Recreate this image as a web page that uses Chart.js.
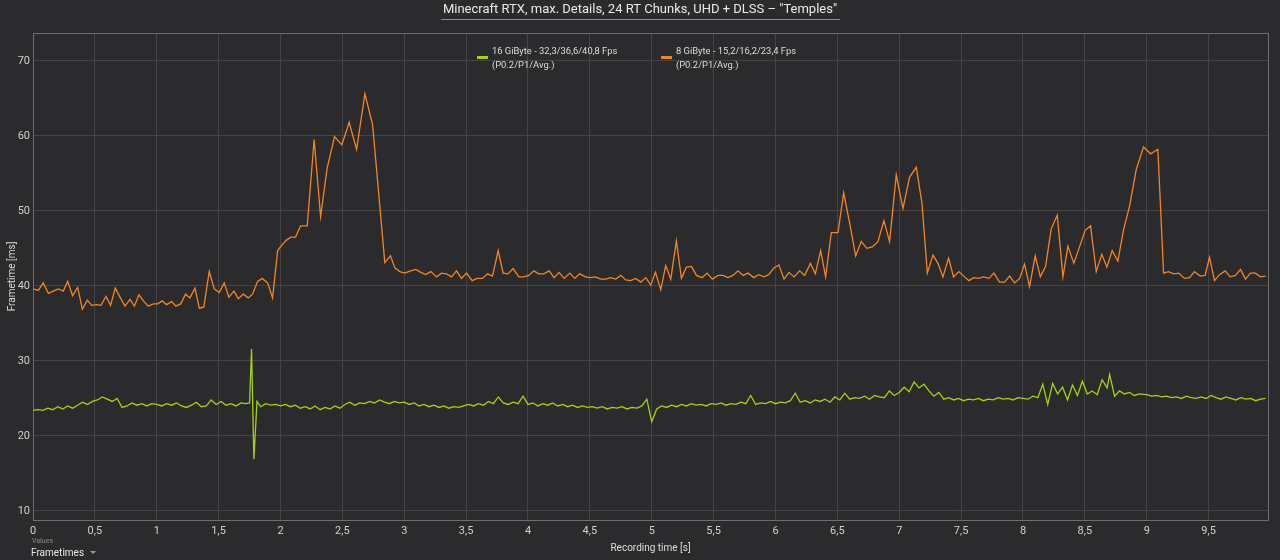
<!DOCTYPE html>
<html>
<head>
<meta charset="utf-8">
<script src="https://cdn.jsdelivr.net/npm/chart.js@4.4.0/dist/chart.umd.min.js"></script>
<style>
  html, body { margin: 0; padding: 0; background: #2b2b2d; }
  #wrap { width: 1280px; height: 560px; }
</style>
</head>
<body>
<div id="wrap"><canvas id="chart" width="1280" height="560"></canvas></div>
<script>
const chartTitle = 'Minecraft RTX, max. Details, 24 RT Chunks, UHD + DLSS \u2013 "Temples"'
const seriesLabels = ['16 GiByte - 32,3/36,6/40,8 Fps', '8 GiByte - 15,2/16,2/23,4 Fps']
const seriesSubLabel = '(P0.2/P1/Avg.)'
const seriesColors = ['#a3d30c', '#f5851f']
const xTicks = [0, 0.5, 1, 1.5, 2, 2.5, 3, 3.5, 4, 4.5, 5, 5.5, 6, 6.5, 7, 7.5, 8, 8.5, 9, 9.5]
const yTicks = [10, 20, 30, 40, 50, 60, 70]

// [recording time s, frametime ms]
const greenFrames = [
  [0,23.4],[0.04,23.5],[0.08,23.4],[0.12,23.7],[0.16,23.5],[0.2,23.9],[0.24,23.6],[0.28,24.0],[0.32,23.7],[0.36,24.1],[0.4,24.5],[0.44,24.2],[0.48,24.6],[0.52,24.8],[0.56,25.2],[0.6,24.9],[0.64,24.6],[0.68,25.0],[0.72,23.8],[0.76,24.0],[0.8,24.4],[0.84,24.1],[0.88,24.3],[0.92,24.0],[0.96,24.3],
  [1.0,24.2],[1.04,24.0],[1.08,24.3],[1.12,24.1],[1.16,24.4],[1.2,24.0],[1.24,23.8],[1.28,24.1],[1.32,24.5],[1.36,23.9],[1.4,24.0],[1.44,24.8],[1.48,24.2],[1.52,24.6],[1.56,24.1],[1.6,24.3],[1.64,24.0],[1.68,24.4],[1.72,24.3],[1.75,24.4],[1.766,31.6],[1.785,16.9],[1.81,24.6],[1.84,23.9],[1.88,24.3],[1.92,24.1],[1.96,24.2],
  [2.0,24.0],[2.04,24.2],[2.08,23.9],[2.12,24.1],[2.16,23.7],[2.2,23.9],[2.24,23.6],[2.28,24.0],[2.32,23.5],[2.36,23.8],[2.4,23.6],[2.44,24.0],[2.48,23.7],[2.52,24.2],[2.56,24.5],[2.6,24.1],[2.64,24.4],[2.68,24.3],[2.72,24.6],[2.76,24.4],[2.8,24.8],[2.84,24.5],[2.88,24.3],[2.92,24.6],[2.96,24.4],
  [3.0,24.5],[3.04,24.2],[3.08,24.4],[3.12,24.0],[3.16,24.2],[3.2,23.9],[3.24,24.1],[3.28,23.8],[3.32,24.0],[3.36,23.7],[3.4,23.9],[3.44,23.8],[3.48,24.0],[3.52,24.2],[3.56,24.0],[3.6,24.3],[3.64,24.1],[3.68,24.6],[3.72,24.3],[3.76,25.2],[3.8,24.4],[3.84,24.2],[3.88,24.5],[3.92,24.3],[3.96,25.3],
  [4.0,24.2],[4.04,24.4],[4.08,24.0],[4.12,24.3],[4.16,24.1],[4.2,24.4],[4.24,24.0],[4.28,24.2],[4.32,23.9],[4.36,24.1],[4.4,23.8],[4.44,24.0],[4.48,23.8],[4.52,23.9],[4.56,23.7],[4.6,23.9],[4.64,23.6],[4.68,23.8],[4.72,23.7],[4.76,23.9],[4.8,23.6],[4.84,23.8],[4.88,23.7],[4.92,24.0],[4.96,24.9],
  [5.0,21.9],[5.04,23.6],[5.08,24.0],[5.12,23.8],[5.16,24.1],[5.2,23.9],[5.24,24.2],[5.28,24.0],[5.32,24.3],[5.36,24.1],[5.4,24.2],[5.44,24.0],[5.48,24.3],[5.52,24.2],[5.56,24.4],[5.6,24.1],[5.64,24.3],[5.68,24.2],[5.72,24.5],[5.76,24.3],[5.8,25.4],[5.84,24.2],[5.88,24.4],[5.92,24.3],[5.96,24.6],
  [6.0,24.3],[6.04,24.5],[6.08,24.4],[6.12,24.7],[6.16,25.7],[6.2,24.5],[6.24,24.7],[6.28,24.4],[6.32,24.8],[6.36,24.6],[6.4,24.9],[6.44,24.5],[6.48,25.2],[6.52,24.8],[6.56,25.7],[6.6,24.9],[6.64,25.1],[6.68,25.0],[6.72,25.3],[6.76,24.9],[6.8,25.4],[6.84,25.2],[6.88,25.1],[6.92,26.0],[6.96,25.4],
  [7.0,25.8],[7.04,26.5],[7.08,25.9],[7.12,27.2],[7.16,26.4],[7.2,26.9],[7.24,26.0],[7.28,25.3],[7.32,25.8],[7.36,24.9],[7.4,25.1],[7.44,24.8],[7.48,25.0],[7.52,24.7],[7.56,24.9],[7.6,24.8],[7.64,25.0],[7.68,24.7],[7.72,24.9],[7.76,24.8],[7.8,25.1],[7.84,24.9],[7.88,25.0],[7.92,24.8],[7.96,25.1],
  [8.0,25.0],[8.04,24.9],[8.08,25.3],[8.12,25.1],[8.16,26.9],[8.2,24.2],[8.24,27.0],[8.28,25.6],[8.32,26.5],[8.36,24.8],[8.4,26.8],[8.44,25.4],[8.48,27.3],[8.52,25.6],[8.56,26.0],[8.6,25.5],[8.64,27.5],[8.68,26.4],[8.7,28.2],[8.74,25.3],[8.78,26.0],[8.82,25.6],[8.86,25.8],[8.9,25.4],[8.94,25.6],
  [9.0,25.5],[9.04,25.3],[9.08,25.4],[9.12,25.2],[9.16,25.3],[9.2,25.1],[9.24,25.2],[9.28,25.0],[9.32,25.3],[9.36,25.1],[9.4,25.0],[9.44,25.2],[9.48,25.0],[9.52,25.4],[9.56,25.1],[9.6,24.9],[9.64,25.2],[9.68,25.0],[9.72,24.8],[9.76,25.1],[9.8,24.9],[9.84,25.0],[9.88,24.7],[9.92,24.9],[9.96,25.0]
]

const orangeFrames = [
  [0.00,39.6],[0.043,39.4],[0.083,40.4],[0.124,39.0],[0.164,39.3],[0.205,39.6],[0.245,39.3],[0.280,40.6],[0.320,38.7],[0.361,39.8],[0.399,36.9],[0.439,38.1],[0.474,37.4],[0.514,37.5],[0.549,37.4],[0.590,38.6],[0.627,37.4],[0.665,39.7],[0.703,38.5],[0.743,37.3],[0.784,38.2],[0.819,37.3],[0.856,38.8],[0.897,37.9],[0.932,37.3],[0.972,37.6],
  [1.007,37.6],[1.045,38.0],[1.080,37.5],[1.120,37.9],[1.155,37.3],[1.193,37.6],[1.233,38.9],[1.268,38.4],[1.309,39.7],[1.344,37.0],[1.381,37.2],[1.424,41.9],[1.465,39.6],[1.505,39.1],[1.545,40.4],[1.583,38.5],[1.624,39.3],[1.659,38.3],[1.699,38.9],[1.739,38.4],[1.774,38.9],[1.815,40.6],[1.852,41.0],[1.896,40.4],[1.936,38.4],[1.977,44.7],
  [2.014,45.5],[2.049,46.1],[2.084,46.5],[2.122,46.5],[2.162,48.0],[2.216,48.0],[2.272,59.5],[2.324,49.2],[2.377,55.7],[2.437,59.9],[2.496,58.8],[2.555,61.8],[2.615,58.2],[2.682,65.6],[2.744,61.5],[2.789,53.2],[2.843,43.1],[2.889,44.0],[2.924,42.4],[2.964,41.9],
  [3.005,41.7],[3.051,42.0],[3.094,42.2],[3.134,41.8],[3.174,41.5],[3.215,41.9],[3.261,41.2],[3.301,41.7],[3.342,41.6],[3.382,41.2],[3.422,42.0],[3.463,41.0],[3.503,41.7],[3.549,40.7],[3.589,41.0],[3.632,41.0],[3.673,41.6],[3.713,41.3],[3.759,44.7],[3.799,41.7],[3.839,41.6],[3.880,42.3],[3.926,41.2],[3.966,41.2],
  [4.006,41.4],[4.047,42.0],[4.087,41.6],[4.128,41.6],[4.171,42.0],[4.211,41.1],[4.251,41.8],[4.292,41.0],[4.338,41.7],[4.378,41.0],[4.418,41.6],[4.464,41.2],[4.505,41.1],[4.545,41.2],[4.588,40.9],[4.628,40.9],[4.669,41.1],[4.709,40.9],[4.750,41.4],[4.790,40.8],[4.830,40.7],[4.871,41.0],[4.911,40.5],[4.952,41.1],[4.992,40.1],
  [5.030,41.8],[5.073,39.5],[5.113,42.7],[5.154,40.9],[5.199,46.0],[5.240,41.0],[5.280,42.5],[5.321,42.6],[5.361,41.4],[5.407,41.1],[5.447,41.7],[5.490,40.9],[5.536,41.4],[5.576,41.4],[5.616,41.1],[5.657,41.4],[5.697,42.0],[5.738,41.4],[5.778,41.7],[5.824,41.1],[5.864,41.5],[5.907,41.2],[5.945,41.5],[5.988,42.4],
  [6.028,42.8],[6.069,40.9],[6.109,41.8],[6.150,41.2],[6.195,42.0],[6.236,41.4],[6.282,43.0],[6.322,41.6],[6.365,44.7],[6.405,41.2],[6.451,47.1],[6.505,47.1],[6.551,52.4],[6.599,48.4],[6.648,44.0],[6.693,45.9],[6.739,45.0],[6.782,45.2],[6.828,45.9],[6.876,48.7],[6.922,45.9],[6.976,54.8],
  [7.030,50.3],[7.084,54.5],[7.138,55.8],[7.184,51.0],[7.227,41.7],[7.273,44.1],[7.313,43.0],[7.353,41.2],[7.399,43.7],[7.439,41.2],[7.482,41.9],[7.528,41.2],[7.563,40.7],[7.601,41.1],[7.641,41.0],[7.682,41.2],[7.725,41.0],[7.765,41.7],[7.811,40.5],[7.851,40.5],[7.892,41.3],[7.932,40.4],[7.973,41.0],
  [8.013,42.9],[8.053,39.9],[8.099,44.0],[8.140,41.2],[8.183,42.6],[8.228,47.6],[8.277,49.4],[8.323,41.2],[8.363,45.3],[8.411,43.0],[8.457,45.2],[8.503,47.4],[8.546,48.0],[8.592,41.9],[8.637,44.2],[8.678,42.5],[8.721,44.7],[8.767,43.3],[8.813,47.5],[8.861,50.6],[8.915,55.5],[8.974,58.5],
  [9.031,57.6],[9.090,58.2],[9.136,41.7],[9.176,41.9],[9.219,41.6],[9.259,41.7],[9.305,41.0],[9.346,41.1],[9.386,41.9],[9.432,41.3],[9.472,41.4],[9.507,43.8],[9.548,40.7],[9.588,41.5],[9.634,42.0],[9.674,41.2],[9.717,41.4],[9.758,42.2],[9.798,40.9],[9.838,41.7],[9.879,41.7],[9.919,41.2],[9.960,41.3]
]

const FONT = 'Roboto, "Noto Sans", sans-serif'
const fmt = v => String(v).replace('.', ',')

// draws the dark frame, title, legend and axis captions around the plot
const framePlugin = {
  id: 'frame',
  beforeDraw(chart) {
    const ctx = chart.ctx
    ctx.save()
    ctx.fillStyle = '#2b2b2d'
    ctx.fillRect(0, 0, chart.width, chart.height)
    ctx.restore()
  },
  beforeDatasetsDraw(chart) {
    const { ctx, chartArea: a } = chart
    ctx.save()
    ctx.strokeStyle = '#6e6e70'
    ctx.lineWidth = 1
    ctx.strokeRect(Math.round(a.left) + 0.5, Math.round(a.top) + 0.5, Math.round(a.right - a.left), Math.round(a.bottom - a.top))
    ctx.restore()
  },
  afterDraw(chart) {
    const { ctx, chartArea: a } = chart
    ctx.save()

    // title + underline
    ctx.fillStyle = '#e8e8e8'
    ctx.font = '13px ' + FONT
    ctx.textAlign = 'center'
    ctx.textBaseline = 'middle'
    ctx.fillText(chartTitle, 640, 10)
    const w = ctx.measureText(chartTitle).width
    ctx.strokeStyle = '#8c8c8c'
    ctx.beginPath()
    ctx.moveTo(640 - w / 2 - 2, 19.5)
    ctx.lineTo(640 + w / 2 + 3, 19.5)
    ctx.stroke()

    // legend
    const legendX = [477, 661]
    ctx.font = '9.4px ' + FONT
    ctx.textAlign = 'left'
    seriesLabels.forEach((label, i) => {
      ctx.fillStyle = seriesColors[i]
      ctx.fillRect(legendX[i], 56, 11, 3)
      ctx.fillStyle = '#dcdcdc'
      ctx.fillText(label, legendX[i] + 15, 52)
      ctx.fillText(seriesSubLabel, legendX[i] + 15, 66)
    })

    // axis titles
    ctx.fillStyle = '#dcdcdc'
    ctx.font = '10px ' + FONT
    ctx.textAlign = 'center'
    ctx.fillText('Recording time [s]', (a.left + a.right) / 2, 548)
    ctx.save()
    ctx.translate(12, (a.top + a.bottom) / 2)
    ctx.rotate(-Math.PI / 2)
    ctx.fillText('Frametime [ms]', 0, 0)
    ctx.restore()

    // bottom-left selector
    ctx.textAlign = 'left'
    ctx.fillStyle = '#8a8a8a'
    ctx.font = '7px ' + FONT
    ctx.fillText('Values', 32, 541)
    ctx.fillStyle = '#e6e6e6'
    ctx.font = '10px ' + FONT
    ctx.fillText('Frametimes', 31, 553)
    const tx = 31 + ctx.measureText('Frametimes').width + 6
    ctx.fillStyle = '#9a9a9a'
    ctx.beginPath()
    ctx.moveTo(tx, 551)
    ctx.lineTo(tx + 6, 551)
    ctx.lineTo(tx + 3, 554)
    ctx.closePath()
    ctx.fill()

    ctx.restore()
  }
}

const toPoints = frames => frames.map(([t, ms]) => ({ x: t, y: ms }))

new Chart(document.getElementById('chart'), {
  type: 'line',
  data: {
    datasets: [
      {
        label: seriesLabels[0],
        data: toPoints(greenFrames),
        borderColor: seriesColors[0],
        borderWidth: 1.3,
        pointRadius: 0,
        tension: 0
      },
      {
        label: seriesLabels[1],
        data: toPoints(orangeFrames),
        borderColor: seriesColors[1],
        borderWidth: 1.3,
        pointRadius: 0,
        tension: 0
      }
    ]
  },
  options: {
    responsive: false,
    animation: false,
    layout: { padding: { top: 33, right: 12, left: 0, bottom: 0 } },
    plugins: {
      legend: { display: false },
      tooltip: { enabled: false }
    },
    scales: {
      x: {
        type: 'linear',
        min: 0,
        max: 9.98,
        afterBuildTicks: scale => { scale.ticks = xTicks.map(v => ({ value: v })) },
        afterFit: scale => { scale.height = 40 },
        grid: { color: '#444447', drawTicks: false },
        border: { display: false },
        ticks: {
          color: '#d0d0d0',
          font: { family: FONT, size: 11 },
          padding: 5,
          maxRotation: 0,
          autoSkip: false,
          callback: v => fmt(v)
        }
      },
      y: {
        min: 8.8,
        max: 73.7,
        afterBuildTicks: scale => { scale.ticks = yTicks.map(v => ({ value: v })) },
        afterFit: scale => { scale.width = 33 },
        grid: { color: '#444447', drawTicks: false },
        border: { display: false },
        ticks: {
          color: '#d0d0d0',
          font: { family: FONT, size: 11 },
          padding: 3,
          callback: v => fmt(v)
        }
      }
    }
  },
  plugins: [framePlugin]
})
</script>
</body>
</html>
